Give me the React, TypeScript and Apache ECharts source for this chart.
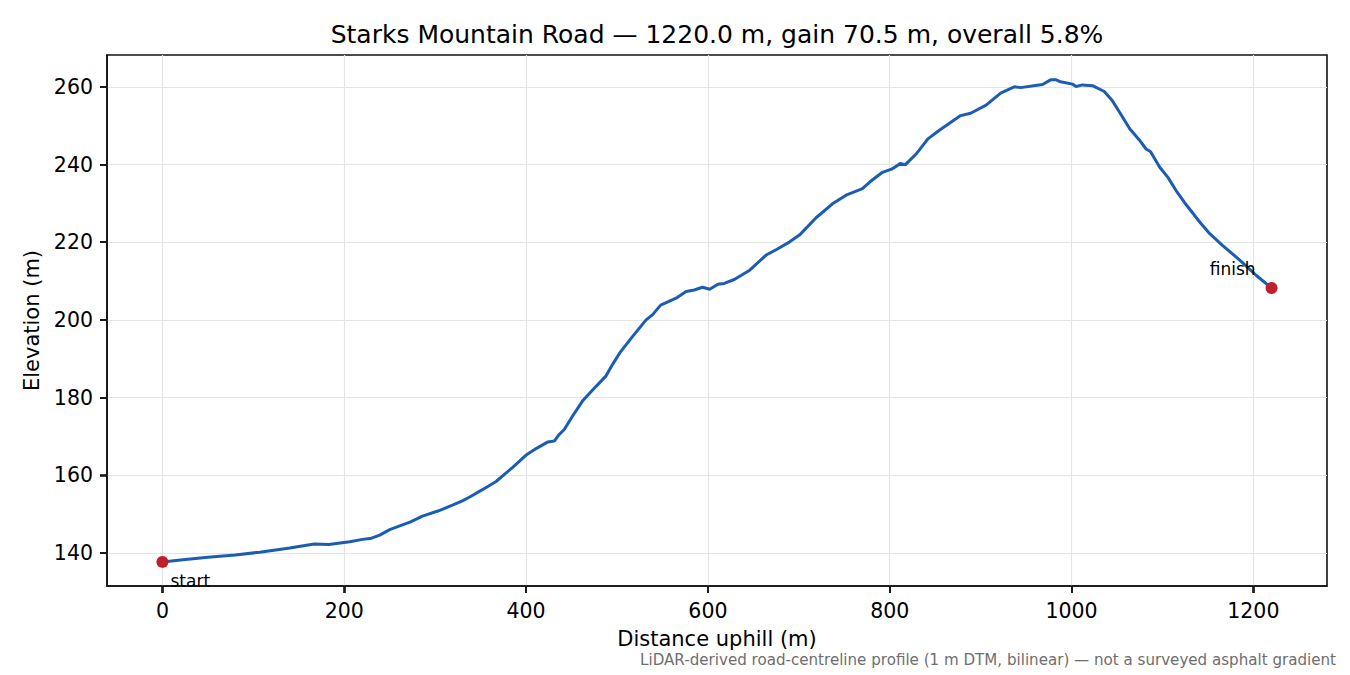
import React, { useEffect, useRef } from "react";
import * as echarts from "echarts";

// distance along the road (m) and elevation (m)
const distances = [
  0, 20, 50, 80, 107, 140, 167, 183, 206, 220, 230, 239, 250, 261, 273, 286,
  303, 319, 330, 338, 352, 367, 385, 400, 412, 424, 431, 436, 442, 451, 462,
  477, 488, 495, 503, 517, 532, 539, 548, 565, 576, 585, 594, 602, 611, 618,
  629, 646, 664, 676, 690, 701, 719, 737, 752, 770, 778, 792, 802, 812, 817,
  829, 842, 855, 878, 889, 906, 922, 937, 944, 968, 977, 983, 988, 1001, 1005,
  1012, 1023, 1036, 1045, 1053, 1064, 1075, 1082, 1087, 1097, 1106, 1115,
  1124, 1141, 1152, 1166, 1185, 1203, 1220,
];
const elevations = [
  137.7, 138.2, 138.9, 139.5, 140.2, 141.3, 142.3, 142.2, 142.9, 143.5, 143.8,
  144.6, 146.0, 147.0, 148.0, 149.5, 150.8, 152.3, 153.4, 154.4, 156.3, 158.4,
  162.0, 165.2, 167.0, 168.6, 168.8, 170.4, 171.8, 175.2, 179.1, 182.9, 185.6,
  188.5, 191.5, 195.7, 200.0, 201.3, 203.8, 205.6, 207.3, 207.7, 208.4, 207.9,
  209.2, 209.4, 210.4, 212.8, 216.7, 218.2, 220.1, 221.9, 226.3, 229.9, 232.1,
  233.8, 235.5, 238.0, 238.8, 240.3, 239.9, 242.7, 246.6, 248.9, 252.6, 253.2,
  255.3, 258.4, 260.0, 259.8, 260.6, 261.8, 261.8, 261.3, 260.7, 260.1, 260.5,
  260.3, 258.8, 256.4, 253.4, 249.2, 246.2, 244.0, 243.3, 239.3, 236.7, 233.3,
  230.3, 225.2, 222.2, 219.2, 215.4, 211.5, 208.2,
];

const xTicks = [0, 200, 400, 600, 800, 1000, 1200];
const yTicks = [140, 160, 180, 200, 220, 240, 260];
const endLabels = ["start", "finish"];

const X_MIN = -61;
const X_MAX = 1281;
const Y_MIN = 131.5;
const Y_MAX = 268.2;

const titleText =
  "Starks Mountain Road \u2014 1220.0 m, gain 70.5 m, overall 5.8%";
const noteText =
  "LiDAR-derived road-centreline profile (1 m DTM, bilinear) \u2014 not a surveyed asphalt gradient";

const FONT = "DejaVu Sans";
const TICK_LEN = 7;

const App: React.FC = () => {
  const chartRef = useRef<HTMLDivElement>(null);

  useEffect(() => {
    if (!chartRef.current) return;
    const chart = echarts.init(chartRef.current, undefined, { renderer: "svg" });

    const profile = distances.map((d, i) => [d, elevations[i]]);
    const last = profile.length - 1;

    const axisCommon = {
      type: "value" as const,
      axisLine: {
        show: true,
        onZero: false,
        lineStyle: { color: "#111", width: 1.6 },
      },
      splitLine: { show: true, lineStyle: { color: "#e4e4e4", width: 1.2 } },
      axisLabel: {
        color: "#000",
        fontSize: 20.5,
        fontFamily: FONT,
        margin: 14,
        formatter: (v: number) => String(v),
      },
      nameTextStyle: { color: "#000", fontSize: 21, fontFamily: FONT },
    };

    // outward tick marks, placed through the axes' own scales
    const tickSeries = (data: number[][], horizontal: boolean) => ({
      type: "custom",
      coordinateSystem: "cartesian2d",
      silent: true,
      clip: false,
      z: 10,
      data,
      renderItem: (_p: any, api: any) => {
        const pt = api.coord([api.value(0), api.value(1)]);
        const x = Math.round(pt[0]);
        const y = Math.round(pt[1]);
        return {
          type: "polyline",
          shape: {
            points: horizontal
              ? [
                  [x, y],
                  [x, y + TICK_LEN],
                ]
              : [
                  [x, y],
                  [x - TICK_LEN, y],
                ],
          },
          style: { stroke: "#111", lineWidth: 1.6, fill: "none" },
        };
      },
    });

    chart.setOption({
      animation: false,
      backgroundColor: "#fff",
      grid: {
        left: 107,
        right: 23,
        top: 55,
        bottom: 89,
        show: true,
        borderColor: "#111",
        borderWidth: 1.6,
      },
      xAxis: {
        ...axisCommon,
        min: X_MIN,
        max: X_MAX,
        axisLabel: { ...axisCommon.axisLabel, customValues: xTicks },
        axisTick: {
          show: true,
          length: TICK_LEN,
          customValues: xTicks,
          lineStyle: { color: "#111", width: 1.6 },
        },
        name: "Distance uphill (m)",
        nameLocation: "middle",
        nameGap: 42,
      },
      yAxis: {
        ...axisCommon,
        min: Y_MIN,
        max: Y_MAX,
        axisLabel: { ...axisCommon.axisLabel, customValues: yTicks },
        axisTick: {
          show: true,
          length: TICK_LEN,
          customValues: yTicks,
          lineStyle: { color: "#111", width: 1.6 },
        },
        name: "Elevation (m)",
        nameLocation: "middle",
        nameGap: 60,
      },
      graphic: [
        {
          type: "text",
          x: 717,
          y: 34,
          style: {
            text: titleText,
            fill: "#000",
            font: `25px "${FONT}"`,
            textAlign: "center",
            textVerticalAlign: "middle",
          },
        },
        {
          type: "text",
          x: 1336,
          y: 660,
          style: {
            text: noteText,
            fill: "#6e6e6e",
            font: `15.1px "${FONT}"`,
            textAlign: "right",
            textVerticalAlign: "middle",
          },
        },
      ],
      series: [
        {
          type: "line",
          data: profile,
          showSymbol: false,
          lineStyle: { color: "#1b5db3", width: 3 },
          z: 3,
        },
        {
          type: "scatter",
          symbolSize: 12,
          itemStyle: { color: "#c01f2b", opacity: 1 },
          z: 4,
          data: [
            {
              value: profile[0],
              label: {
                show: true,
                formatter: endLabels[0],
                position: "inside",
                align: "left",
                verticalAlign: "middle",
                offset: [8, 19],
              },
            },
            {
              value: profile[last],
              label: {
                show: true,
                formatter: endLabels[1],
                position: "inside",
                align: "right",
                verticalAlign: "middle",
                offset: [-16, -19],
              },
            },
          ],
          label: { color: "#000", fontSize: 17, fontFamily: FONT },
        },
        tickSeries(
          xTicks.map((v) => [v, Y_MIN]),
          true
        ),
        tickSeries(
          yTicks.map((v) => [X_MIN, v]),
          false
        ),
      ],
    });

    return () => {
      chart.dispose();
    };
  }, []);

  return (
    <div
      ref={chartRef}
      style={{ position: "fixed", left: 0, top: 0, width: 1350, height: 675 }}
    ></div>
  );
};

export default App;
